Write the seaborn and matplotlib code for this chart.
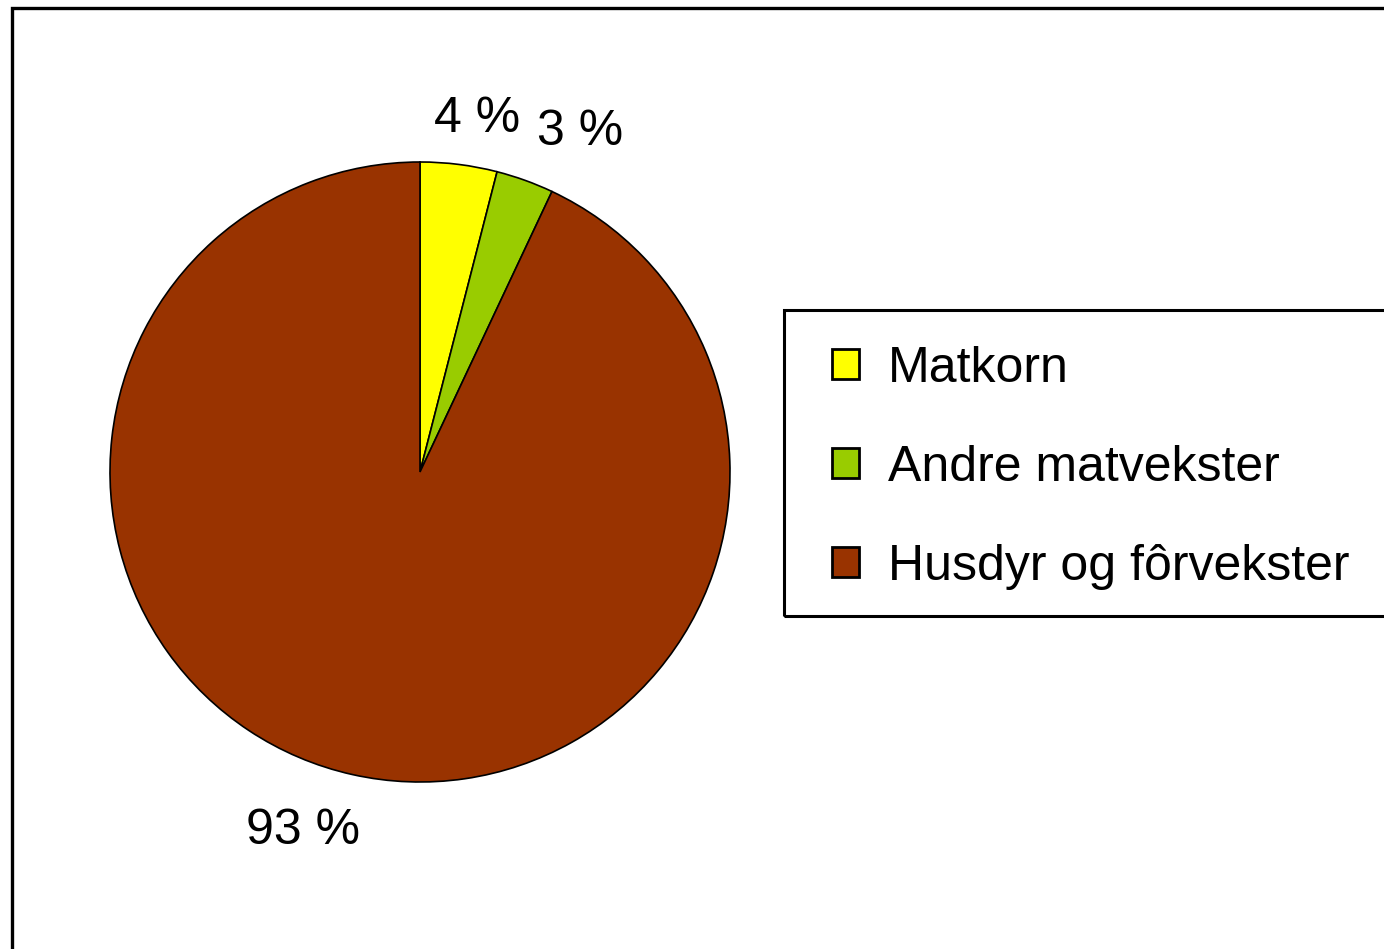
import matplotlib
matplotlib.use("Agg")
import matplotlib.pyplot as plt
import seaborn as sns
from matplotlib.patches import Rectangle, Patch

sns.set_style("white")
plt.rcParams['font.family'] = ['Liberation Sans', 'DejaVu Sans']
plt.rcParams['text.color'] = 'black'

categories = ["Matkorn", "Andre matvekster", "Husdyr og fôrvekster"]
values = [4, 3, 93]
labels = ["4 %", "3 %", "93 %"]
colors = ["#FFFF00", "#99CC00", "#993300"]

W, H = 1384, 949
fig = plt.figure(figsize=(W / 100, H / 100), dpi=100)
ax = fig.add_axes([0, 0, 1, 1])
ax.set_xlim(0, W)
ax.set_ylim(0, H)
ax.set_axis_off()

cx, cy, r = 420, H - 472, 310
wedges, _ = ax.pie(values, colors=colors, startangle=90, counterclock=False,
                   center=(cx, cy), radius=r, frame=True,
                   wedgeprops=dict(edgecolor="black", linewidth=1.2))
ax.set_xlim(0, W)
ax.set_ylim(0, H)
ax.set_axis_off()
ax.set_aspect("auto")

label_pos = [(477, 119), (580, 132), (303, 831)]
for lab, (x, y) in zip(labels, label_pos):
    ax.text(x, H - y, lab, fontsize=36, ha="center", va="center", color="black")

# outer frame
ax.add_patch(Rectangle((12, -50), W + 100, H - 8 + 50, fill=False,
                       edgecolor="black", linewidth=2.4, clip_on=False))
# legend frame
ax.add_patch(Rectangle((784, H - 616), 700, 306, fill=False,
                       edgecolor="black", linewidth=2.2, clip_on=False))

handles = [Patch(facecolor=c, edgecolor="black", linewidth=2) for c in colors]
leg = ax.legend(handles, categories, loc="upper left",
                bbox_to_anchor=(832 / W, 1 - 346 / H), frameon=False,
                fontsize=36, handlelength=0.54, handleheight=0.54,
                handletextpad=0.58, labelspacing=1.06, borderpad=0,
                borderaxespad=0, labelcolor="black")

fig.savefig("out.png", dpi=100, facecolor="white")
